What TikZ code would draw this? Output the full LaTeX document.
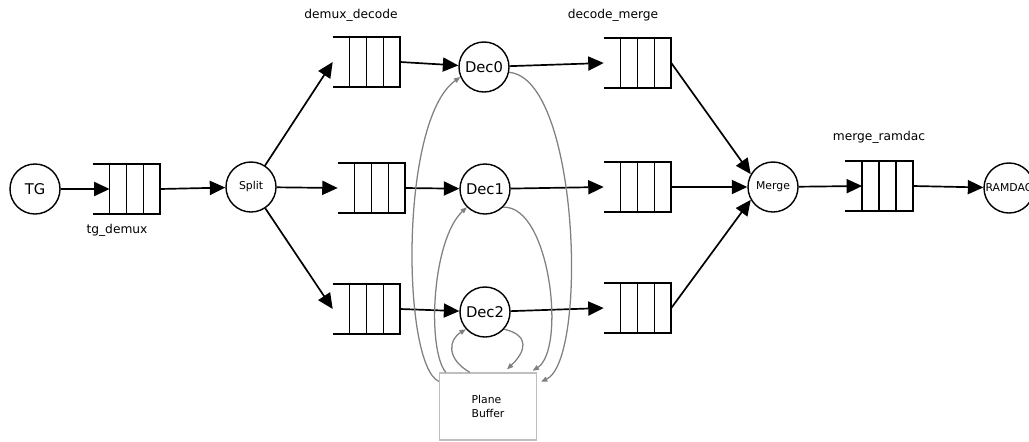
\documentclass[tikz,border=0pt]{standalone}
\usepackage{fontspec}
\setmainfont{DejaVu Sans}
\usetikzlibrary{positioning,arrows.meta,calc}

\tikzset{
  stage/.style={circle,draw,line width=1pt,minimum size=1.25cm,inner sep=0pt,font=\fontsize{10.5}{12}\selectfont},
  smallstage/.style={stage,font=\fontsize{7.7}{9}\selectfont},
  fifobox/.style={minimum width=1.675cm,minimum height=1.25cm,inner sep=0pt},
  fifoline/.style={line width=1.2pt},
  flow/.style={line width=1.2pt,-{Triangle[length=11pt,width=10pt]}},
  feed/.style={gray,line width=0.9pt,-{Triangle[length=4.5pt,width=3.5pt]}},
  qname/.style={font=\fontsize{8.7}{10}\selectfont},
}

\newcommand{\fifo}[3]{%
  \node[fifobox] (#1) at (#2,#3) {};
  \draw[fifoline] (#1.north west) -- (#1.north east) -- (#1.south east) -- (#1.south west);
  \foreach \f in {0.25,0.5,0.75}
    \draw[fifoline] ($(#1.north west)!\f!(#1.north east)$) -- ($(#1.south west)!\f!(#1.south east)$);
  \coordinate (#1in) at ($(#1.west)!0.25!(#1.east)$);
}

\begin{document}
\begin{tikzpicture}[x=0.025cm,y=-0.025cm]

\useasboundingbox (0,0) rectangle (1029,441);

\node[stage] (tg) at (35,189) {TG};
\fifo{tq}{126.5}{189}
\node[smallstage] (split) at (251,187) {Split};

\fifo{dq0}{366.5}{62}
\fifo{dq1}{371.5}{188}
\fifo{dq2}{366.5}{309}

\node[stage] (dec0) at (484,67) {Dec0};
\node[stage] (dec1) at (485,189) {Dec1};
\node[stage] (dec2) at (485,312) {Dec2};

\fifo{dm0}{637.5}{63}
\fifo{dm1}{637.5}{187}
\fifo{dm2}{637.5}{308}

\node[smallstage] (merge) at (773,187) {Merge};
\fifo{mq}{879}{186}
\node[smallstage] (ramdac) at (1009,188) {RAMDAC};

\node[draw=black!25,line width=1pt,minimum width=2.425cm,minimum height=1.675cm,align=left,
      font=\fontsize{7.7}{10}\selectfont] (pb) at (488,406.5) {Plane\\Buffer};

\node[qname] at (117,230) {tg\_demux};
\node[qname] at (351,15) {demux\_decode};
\node[qname] at (613,15) {decode\_merge};
\node[qname] at (879,137) {merge\_ramdac};

\draw[flow] (tg) -- (tqin);
\draw[flow] (tq.east) -- (split);
\draw[flow] (split) -- (dq0.west);
\draw[flow] (split) -- (dq1.west);
\draw[flow] (split) -- (dq2.west);

\foreach \i in {0,1,2} {
  \draw[flow] (dq\i.east) -- (dec\i);
  \draw[flow] (dec\i) -- (dm\i.west);
}

\draw[flow] (dm0.east) -- (merge.150);
\draw[flow] (dm1.east) -- (merge.180);
\draw[flow] (dm2.east) -- (merge.210);
\draw[flow] (merge) -- (mqin);
\draw[flow] (mq.east) -- (ramdac);

\draw[feed] (pb.153) .. controls +(-37,-17) and +(-61,43) .. (dec0.203);
\draw[feed] (pb.141) .. controls +(-19,-23) and +(-35,33) .. (dec1.225);
\draw[feed] (pb.118) .. controls +(-23,-13) and +(-18,11) .. (dec2.222);
\draw[feed,shorten >=3pt] (dec2.-42) .. controls +(26,6) and +(22,-21) .. (pb.65);
\draw[feed,shorten >=2pt] (dec1.-45) .. controls +(47,-2) and +(36,-23) .. (pb.39);
\draw[feed,shorten >=3pt] (dec0.-12) .. controls +(70,6) and +(51,-24) .. (pb.25);

\end{tikzpicture}
\end{document}
